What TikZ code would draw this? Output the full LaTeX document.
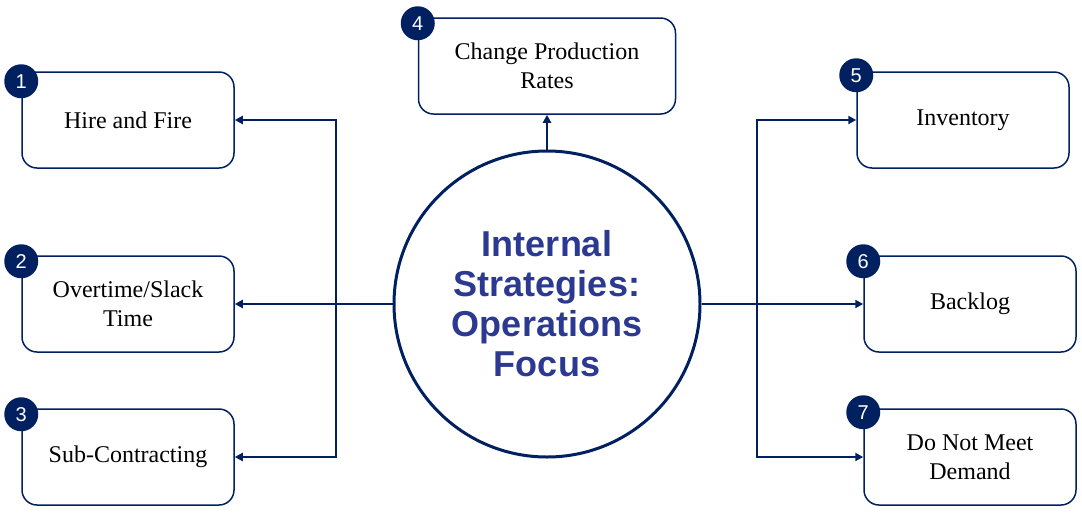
\documentclass[tikz,border=0pt]{standalone}
\usepackage{fontspec}
\setmainfont{Liberation Serif}
\setsansfont{Liberation Sans}
\usepackage{tikz}
\usetikzlibrary{arrows.meta,positioning}
\definecolor{navy}{HTML}{002060}
\definecolor{focusblue}{HTML}{2B3990}
\tikzset{
  stratbox/.style = {draw=navy, line width=0.75pt, rounded corners=7.5pt, fill=white,
                     minimum width=106pt, minimum height=48pt, align=center,
                     font=\fontsize{12}{14.5}\selectfont},
  badge/.style    = {circle, fill=navy, text=white, inner sep=0pt, minimum size=17pt,
                     font=\sffamily\fontsize{10}{10}\selectfont},
  hub/.style      = {circle, draw=navy, line width=1.5pt, minimum size=153pt, align=center,
                     text=focusblue, font=\sffamily\bfseries\fontsize{18}{20}\selectfont},
  link/.style     = {-{Triangle[length=4pt,width=4pt]}, navy, line width=1pt},
}
\begin{document}
\begin{tikzpicture}[x=0.5pt, y=-0.5pt]
  \useasboundingbox (0,0) rectangle (1082,515);
  % centre
  \node[hub] (focus) at (547,304) {Internal\\Strategies:\\Operations\\Focus};
  % left side
  \node[stratbox] (hire) at (128,120) {Hire and Fire};
  \node[stratbox] (over) at (128,304) {Overtime/Slack\\Time};
  \node[stratbox] (sub)  at (128,457) {Sub-Contracting};
  % top
  \node[stratbox, minimum width=128.5pt] (rate) at (547,66) {Change Production\\Rates};
  % right side
  \node[stratbox] (inv)  at (963,120) {Inventory};
  \node[stratbox] (back) at (970,304) {Backlog};
  \node[stratbox] (dnm)  at (970,457) {Do Not Meet\\Demand};
  % numbers
  \node[badge] (n1) at ([yshift=-5pt]hire.north west) {1};
  \node[badge] (n2) at ([yshift=-3pt]over.north west) {2};
  \node[badge] (n3) at ([yshift=-3pt]sub.north west)  {3};
  \node[badge] (n4) at ([yshift=-3pt]rate.north west) {4};
  \node[badge] (n5) at ([yshift=-2pt]inv.north west)  {5};
  \node[badge] (n6) at ([yshift=-3pt]back.north west) {6};
  \node[badge] (n7) at ([yshift=-2pt]dnm.north west)  {7};
  % connectors
  \coordinate (ltrunk) at (336,304);
  \coordinate (rtrunk) at (757,304);
  \draw[link] (focus.west) -- (over.east);
  \draw[link] (ltrunk) |- (hire.east);
  \draw[link] (ltrunk) |- (sub.east);
  \draw[link] (focus.north) -- (rate.south);
  \draw[link] (focus.east) -- (back.west);
  \draw[link] (rtrunk) |- (inv.west);
  \draw[link] (rtrunk) |- (dnm.west);
\end{tikzpicture}
\end{document}
